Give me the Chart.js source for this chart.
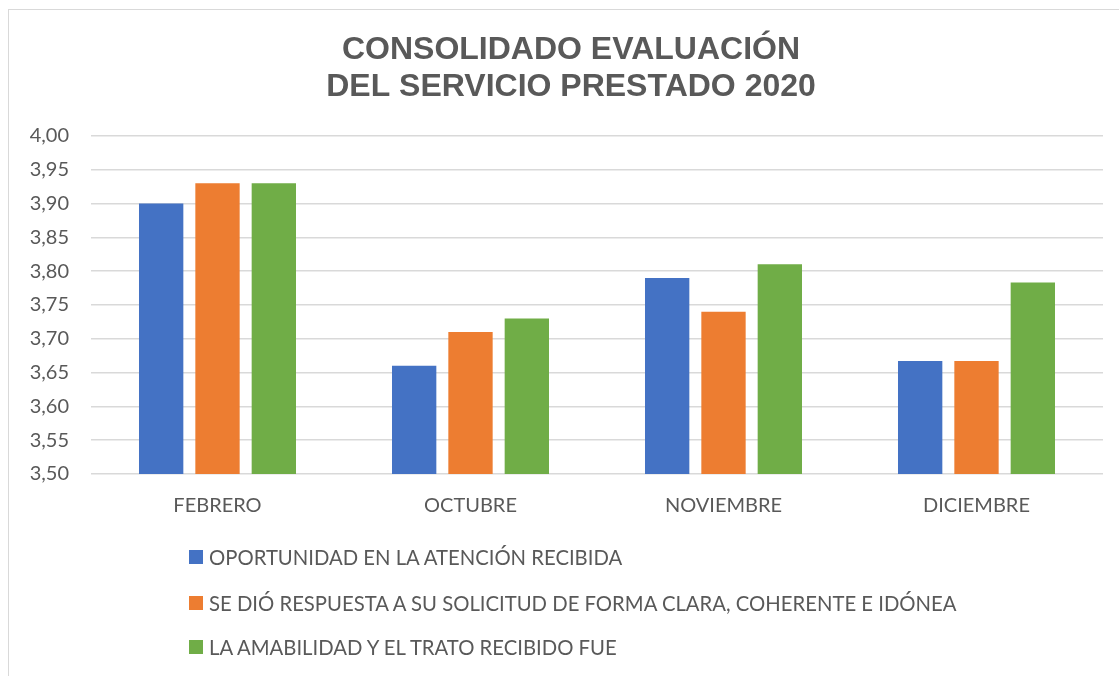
<!DOCTYPE html>
<html>
<head>
<meta charset="utf-8">
<script src="https://cdn.jsdelivr.net/npm/chart.js@4.4.1/dist/chart.umd.min.js"></script>
<style>
    html, body { margin: 0; padding: 0; background: #fff; overflow: hidden; }
    #wrap { position: relative; width: 1119px; height: 676px; overflow: hidden; }
    #frame { position: absolute; left: 8px; top: 9px; width: 1160px; height: 720px; border: 1.5px solid #d9d9d9; box-sizing: border-box; }
    #box { position: absolute; left: 0; top: 0; width: 1143px; height: 676px; }
    #legend { position: absolute; left: 189px; top: 0; font-family: Lato, 'Liberation Sans', sans-serif; font-size: 20.3px; color: #595959; }
    .item { position: absolute; left: 0; white-space: nowrap; display: flex; align-items: center; }
    .item span.sw { width: 14px; height: 14px; margin-right: 6px; display: inline-block; }
</style>
</head>
<body>
<div id="wrap">
    <div id="frame"></div>
    <div id="box"><canvas id="chart"></canvas></div>
    <div id="legend"></div>
</div>
<script>
// Data
const months = ['FEBRERO', 'OCTUBRE', 'NOVIEMBRE', 'DICIEMBRE'];
const seriesNames = [
    'OPORTUNIDAD EN LA ATENCIÓN RECIBIDA',
    'SE DIÓ RESPUESTA A SU SOLICITUD DE FORMA CLARA, COHERENTE E IDÓNEA',
    'LA AMABILIDAD Y EL TRATO RECIBIDO FUE'
];
const oportunidad = [3.90, 3.66, 3.79, 3.667];
const respuesta = [3.93, 3.71, 3.74, 3.667];
const amabilidad = [3.93, 3.73, 3.81, 3.783];
const yTicks = [3.50, 3.55, 3.60, 3.65, 3.70, 3.75, 3.80, 3.85, 3.90, 3.95, 4.00];

const colors = ['#4472C4', '#ED7D31', '#70AD47'];
const textGray = '#595959';
const gridGray = '#d9d9d9';
const bodyFont = 'Lato, "Liberation Sans", sans-serif';

const values = [oportunidad, respuesta, amabilidad];
const datasets = seriesNames.map((name, i) => ({
    label: name,
    data: values[i],
    backgroundColor: colors[i],
    borderWidth: 0,
    categoryPercentage: 0.668,
    barPercentage: 0.787
}));

// y labels are clipped to the axis box, so widen the box to the left after layout
const unclipY = {
    id: 'unclipY',
    afterLayout(chart) {
        chart.scales.y.left = 0;
    }
};

const ctx = document.getElementById('chart').getContext('2d');
const chart = new Chart(ctx, {
    type: 'bar',
    data: { labels: months, datasets: datasets },
    options: {
        responsive: true,
        maintainAspectRatio: false,
        animation: false,
        // left padding keeps the title centred on the full frame
        layout: { padding: { left: 39, right: 40, top: 31, bottom: 138 } },
        plugins: {
            legend: { display: false },
            tooltip: { enabled: false },
            title: {
                display: true,
                text: ['CONSOLIDADO EVALUACIÓN', 'DEL SERVICIO PRESTADO 2020'],
                color: textGray,
                font: { family: '"Liberation Sans", Arial, sans-serif', size: 32, weight: 'bold', lineHeight: 1.17 },
                padding: { top: 0, bottom: 30 }
            }
        },
        scales: {
            x: {
                grid: { display: false, drawTicks: false },
                border: { display: false },
                ticks: { color: textGray, font: { family: bodyFont, size: 20 }, padding: 20 }
            },
            y: {
                min: 3.5,
                max: 4.0,
                afterBuildTicks: axis => { axis.ticks = yTicks.map(v => ({ value: v })); },
                afterFit: axis => { axis.width = 52; },
                grid: { color: gridGray, lineWidth: 1.5, drawTicks: false },
                border: { display: false },
                ticks: {
                    color: textGray,
                    font: { family: bodyFont, size: 20 },
                    padding: 22,
                    callback: v => v.toFixed(2).replace('.', ',')
                }
            }
        }
    },
    plugins: [unclipY]
});

// legend built from the datasets
const legendTops = [557, 603, 647];
const legendEl = document.getElementById('legend');
chart.data.datasets.forEach((ds, i) => {
    const row = document.createElement('div');
    row.className = 'item';
    row.style.top = (legendTops[i] - 12) + 'px';
    row.style.height = '24px';
    row.innerHTML = '<span class="sw" style="background:' + ds.backgroundColor + '"></span>' + ds.label;
    legendEl.appendChild(row);
});
</script>
</body>
</html>
